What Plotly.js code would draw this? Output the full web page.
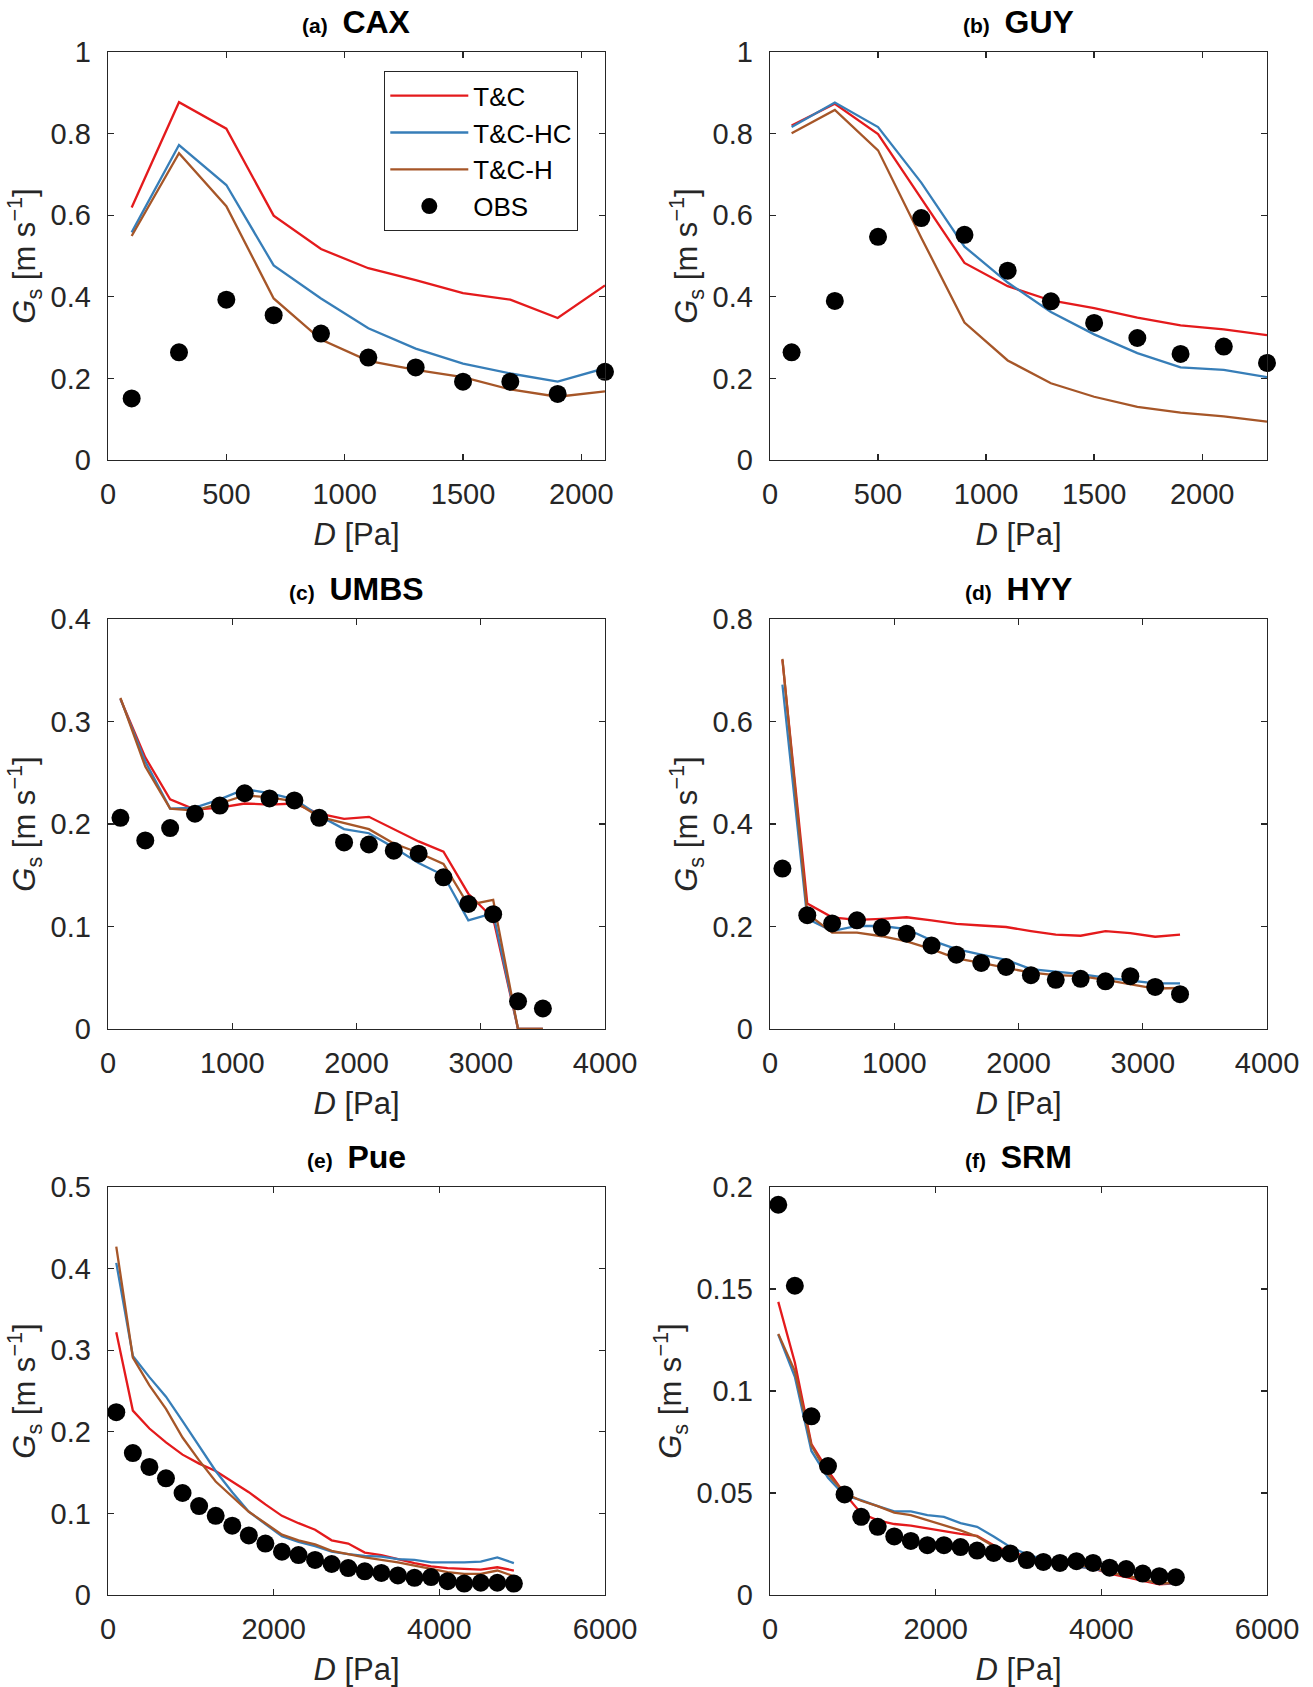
<!DOCTYPE html>
<html>
<head>
<meta charset="utf-8">
<script src="https://cdn.plot.ly/plotly-3.0.1.min.js"></script>
<style>html,body{margin:0;padding:0;background:#fff;}#chart{width:1313px;height:1687px;}</style>
</head>
<body>
<div id="chart"></div>
<script>
// ---- Data ----
const seriesNames = ['T&C', 'T&C-HC', 'T&C-H', 'OBS'];
const panelTitles = ['(a)', '(b)', '(c)', '(d)', '(e)', '(f)'];
const siteNames = ['CAX', 'GUY', 'UMBS', 'HYY', 'Pue', 'SRM'];

const caxD = [100, 300, 500, 700, 900, 1100, 1300, 1500, 1700, 1900, 2100];
const caxTC = [0.619, 0.877, 0.812, 0.599, 0.517, 0.470, 0.441, 0.409, 0.393, 0.348, 0.428];
const caxTCHC = [0.558, 0.772, 0.674, 0.477, 0.396, 0.323, 0.273, 0.236, 0.212, 0.192, 0.225];
const caxTCH = [0.549, 0.752, 0.622, 0.396, 0.295, 0.243, 0.221, 0.203, 0.173, 0.155, 0.168];
const caxObs = [0.151, 0.264, 0.393, 0.355, 0.310, 0.251, 0.227, 0.192, 0.192, 0.162, 0.216];

const guyD = [100, 300, 500, 700, 900, 1100, 1300, 1500, 1700, 1900, 2100, 2300];
const guyTC = [0.820, 0.873, 0.799, 0.641, 0.483, 0.426, 0.391, 0.372, 0.349, 0.330, 0.320, 0.306];
const guyTCHC = [0.816, 0.876, 0.816, 0.680, 0.523, 0.435, 0.363, 0.308, 0.262, 0.227, 0.221, 0.203];
const guyTCH = [0.801, 0.858, 0.759, 0.545, 0.337, 0.244, 0.188, 0.155, 0.130, 0.116, 0.107, 0.094];
const guyObs = [0.264, 0.390, 0.547, 0.593, 0.552, 0.464, 0.389, 0.336, 0.299, 0.260, 0.278, 0.238];

const umbsD = [100, 300, 500, 700, 900, 1100, 1300, 1500, 1700, 1900, 2100, 2300, 2500, 2700, 2900, 3100, 3300, 3500];
const umbsTC = [0.322, 0.265, 0.224, 0.214, 0.216, 0.220, 0.219, 0.220, 0.210, 0.205, 0.207, 0.195, 0.183, 0.173, 0.132, 0.108, 0, 0];
const umbsTCHC = [0.322, 0.261, 0.215, 0.216, 0.224, 0.234, 0.230, 0.224, 0.208, 0.195, 0.191, 0.177, 0.162, 0.150, 0.106, 0.113, 0, 0];
const umbsTCH = [0.323, 0.256, 0.215, 0.213, 0.220, 0.228, 0.226, 0.222, 0.207, 0.201, 0.195, 0.181, 0.172, 0.161, 0.121, 0.126, 0, 0];
const umbsObs = [0.206, 0.184, 0.196, 0.210, 0.218, 0.230, 0.225, 0.223, 0.206, 0.182, 0.180, 0.174, 0.171, 0.148, 0.122, 0.112, 0.027, 0.020];

const hyyD = [100, 300, 500, 700, 900, 1100, 1300, 1500, 1700, 1900, 2100, 2300, 2500, 2700, 2900, 3100, 3300];
const hyyTC = [0.720, 0.245, 0.218, 0.213, 0.215, 0.218, 0.212, 0.205, 0.202, 0.199, 0.191, 0.184, 0.182, 0.191, 0.187, 0.180, 0.184];
const hyyTCHC = [0.672, 0.215, 0.191, 0.201, 0.201, 0.195, 0.173, 0.156, 0.145, 0.135, 0.117, 0.112, 0.107, 0.100, 0.095, 0.089, 0.089];
const hyyTCH = [0.722, 0.225, 0.188, 0.188, 0.181, 0.171, 0.156, 0.138, 0.129, 0.119, 0.110, 0.105, 0.103, 0.096, 0.087, 0.079, 0.080];
const hyyObs = [0.313, 0.222, 0.206, 0.212, 0.198, 0.186, 0.163, 0.145, 0.129, 0.121, 0.105, 0.096, 0.098, 0.093, 0.103, 0.082, 0.068];

const pueD = [100, 300, 500, 700, 900, 1100, 1300, 1500, 1700, 1900, 2100, 2300, 2500, 2700, 2900, 3100, 3300, 3500, 3700, 3900, 4100, 4300, 4500, 4700, 4900];
const pueTC = [0.322, 0.226, 0.204, 0.187, 0.172, 0.161, 0.152, 0.139, 0.126, 0.111, 0.097, 0.088, 0.080, 0.067, 0.063, 0.052, 0.049, 0.044, 0.039, 0.035, 0.033, 0.032, 0.031, 0.034, 0.030];
const pueTCHC = [0.407, 0.293, 0.267, 0.243, 0.213, 0.183, 0.152, 0.126, 0.102, 0.087, 0.072, 0.065, 0.060, 0.053, 0.050, 0.048, 0.047, 0.044, 0.043, 0.040, 0.040, 0.040, 0.041, 0.046, 0.039];
const pueTCH = [0.427, 0.291, 0.257, 0.228, 0.193, 0.165, 0.139, 0.120, 0.102, 0.088, 0.074, 0.067, 0.062, 0.054, 0.050, 0.046, 0.043, 0.040, 0.036, 0.032, 0.028, 0.026, 0.026, 0.030, 0.023];
const pueObs = [0.224, 0.174, 0.157, 0.143, 0.125, 0.109, 0.097, 0.085, 0.073, 0.063, 0.053, 0.049, 0.043, 0.038, 0.033, 0.029, 0.027, 0.024, 0.021, 0.022, 0.017, 0.014, 0.015, 0.015, 0.014];

const srmD = [100, 300, 500, 700, 900, 1100, 1300, 1500, 1700, 1900, 2100, 2300, 2500, 2700, 2900, 3100, 3300, 3500, 3700, 3900, 4100, 4300, 4500, 4700, 4900];
const srmTC = [0.1437, 0.114, 0.074, 0.061, 0.0497, 0.040, 0.0366, 0.0348, 0.034, 0.0326, 0.0314, 0.030, 0.029, 0.0244, 0.0209, 0.0192, 0.0174, 0.0162, 0.014, 0.013, 0.0105, 0.0087, 0.007, 0.0052, 0.0057];
const srmTCHC = [0.1277, 0.107, 0.0706, 0.0575, 0.0488, 0.0465, 0.0436, 0.041, 0.041, 0.0392, 0.0383, 0.0352, 0.0334, 0.0287, 0.0235, 0.020, 0.0174, 0.016, 0.0139, 0.013, 0.011, 0.0096, 0.0075, 0.0057, 0.0057];
const srmTCH = [0.128, 0.1098, 0.0732, 0.0592, 0.050, 0.0462, 0.0436, 0.0404, 0.0392, 0.0366, 0.0343, 0.0317, 0.0287, 0.0239, 0.020, 0.0183, 0.0169, 0.0157, 0.0145, 0.0136, 0.011, 0.0096, 0.0075, 0.0057, 0.0061];
const srmObs = [0.1913, 0.1516, 0.0876, 0.0632, 0.0493, 0.0383, 0.0334, 0.0287, 0.0265, 0.0244, 0.0244, 0.0235, 0.0218, 0.0206, 0.0204, 0.0171, 0.0162, 0.0157, 0.0166, 0.0157, 0.0134, 0.0127, 0.0105, 0.0092, 0.0087];

// axis ranges and tick steps per panel
const xRanges = [[0, 2100], [0, 2300], [0, 4000], [0, 4000], [0, 6000], [0, 6000]];
const xSteps = [500, 500, 1000, 1000, 2000, 2000];
const yRanges = [[0, 1], [0, 1], [0, 0.4], [0, 0.8], [0, 0.5], [0, 0.2]];
const ySteps = [0.2, 0.2, 0.1, 0.2, 0.1, 0.05];

// ---- Styling ----
const W = 1313, H = 1687;
const FONT = 'Liberation Sans, Arial, Helvetica, sans-serif';
const colors = ['#e41a1c', '#377eb8', '#a65628', '#000000'];
const axisColor = '#262626';

const panels = [
  [caxD, caxTC, caxTCHC, caxTCH, caxObs],
  [guyD, guyTC, guyTCHC, guyTCH, guyObs],
  [umbsD, umbsTC, umbsTCHC, umbsTCH, umbsObs],
  [hyyD, hyyTC, hyyTCHC, hyyTCH, hyyObs],
  [pueD, pueTC, pueTCHC, pueTCH, pueObs],
  [srmD, srmTC, srmTCHC, srmTCH, srmObs]
];

// panel boxes in pixels [left, right, top, bottom]
const colsPx = [[108, 605], [770, 1267]];
const rowsPx = [[52, 460], [619, 1029], [1187, 1595]];

const traces = [];
const layout = {
  width: W, height: H,
  margin: {l: 0, r: 0, t: 0, b: 0},
  paper_bgcolor: '#ffffff',
  plot_bgcolor: '#ffffff',
  font: {family: FONT, color: axisColor, size: 29},
  showlegend: true,
  legend: {
    x: 384 / W, y: 1 - 71 / H, xanchor: 'left', yanchor: 'top',
    bgcolor: '#ffffff', bordercolor: axisColor, borderwidth: 1.3,
    font: {family: FONT, size: 26, color: '#000'},
    itemwidth: 78, tracegroupgap: 0
  },
  annotations: []
};

panels.forEach((p, i) => {
  const ax = i === 0 ? '' : String(i + 1);
  const col = i % 2, row = Math.floor(i / 2);
  const [l, r] = colsPx[col];
  const [t, b] = rowsPx[row];
  const xa = 'x' + ax, ya = 'y' + ax;
  for (let s = 0; s < 3; s++) {
    traces.push({
      x: p[0], y: p[s + 1], xaxis: xa, yaxis: ya, type: 'scatter', mode: 'lines',
      name: seriesNames[s], showlegend: i === 0, legendgroup: seriesNames[s],
      line: {color: colors[s], width: 2.3}, hoverinfo: 'skip'
    });
  }
  traces.push({
    x: p[0], y: p[4], xaxis: xa, yaxis: ya, type: 'scatter', mode: 'markers',
    name: seriesNames[3], showlegend: i === 0, legendgroup: seriesNames[3],
    cliponaxis: false,
    marker: {color: '#000', size: 18, line: {width: 0}}, hoverinfo: 'skip'
  });
  const common = {
    showline: true, linecolor: axisColor, linewidth: 1.3, mirror: 'ticks',
    ticks: 'inside', ticklen: 6, tickwidth: 1.3, tickcolor: axisColor,
    showgrid: false, zeroline: false, fixedrange: true,
    tickfont: {family: FONT, size: 29, color: axisColor}
  };
  layout['xaxis' + ax] = Object.assign({}, common, {
    domain: [l / W, r / W], anchor: ya, range: xRanges[i],
    tick0: 0, dtick: xSteps[i], ticklabelstandoff: 8,
    title: {text: '<i>D</i> [Pa]', font: {family: FONT, size: 31, color: axisColor}, standoff: 14}
  });
  layout['yaxis' + ax] = Object.assign({}, common, {
    domain: [1 - b / H, 1 - t / H], anchor: xa, range: yRanges[i],
    tick0: 0, dtick: ySteps[i], ticklabelstandoff: 10,
    title: {text: '<i>G</i><sub>s</sub> [m s<sup>−1</sup>]', font: {family: FONT, size: 31, color: axisColor}, standoff: 5}
  });
  layout.annotations.push({
    xref: 'paper', yref: 'paper', x: (l + r) / 2 / W, y: 1 - t / H,
    xanchor: 'center', yanchor: 'bottom', yshift: 10, showarrow: false,
    text: '<b><span style="font-size:21px">' + panelTitles[i] + '&nbsp;</span> ' + siteNames[i] + '</b>',
    font: {family: FONT, size: 32, color: '#000'}
  });
});

Plotly.newPlot('chart', traces, layout, {displayModeBar: false, staticPlot: true});
</script>
</body>
</html>
